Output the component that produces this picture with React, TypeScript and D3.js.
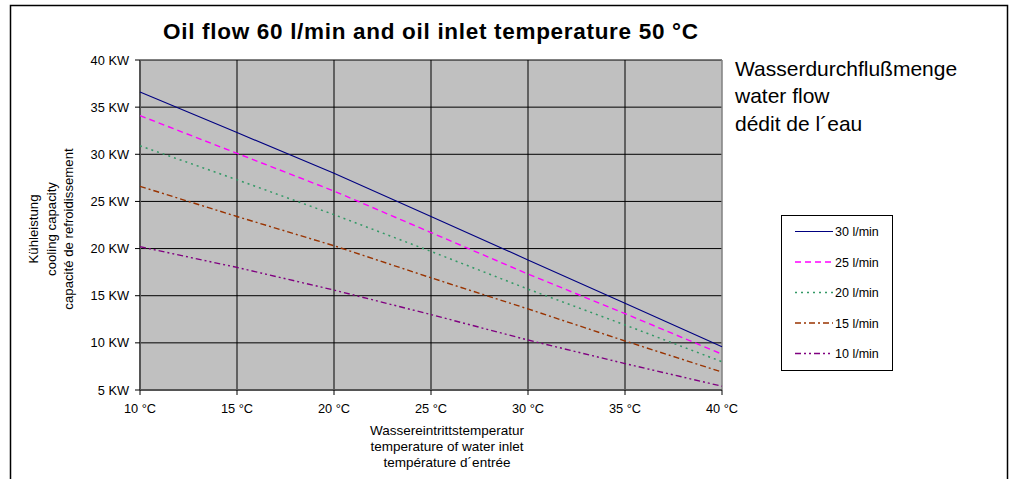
import React from "react";
import * as d3 from "d3";

const temperatures = [10, 15, 20, 25, 30, 35, 40];
const flow30 = [36.6, 32.3, 28.0, 23.4, 18.8, 14.2, 9.6];
const flow25 = [34.1, 30.1, 26.1, 21.7, 17.3, 13.1, 8.8];
const flow20 = [30.9, 27.3, 23.6, 19.7, 15.7, 11.9, 8.0];
const flow15 = [26.6, 23.4, 20.3, 16.9, 13.6, 10.2, 6.9];
const flow10 = [20.2, 18.0, 15.6, 13.0, 10.3, 7.8, 5.4];
const yTicks = [5, 10, 15, 20, 25, 30, 35, 40];
const xTicks = [10, 15, 20, 25, 30, 35, 40];
const seriesNames = ["30 l/min", "25 l/min", "20 l/min", "15 l/min", "10 l/min"];

const styles = [
  { color: "#000080", dash: "", width: 1.1 },
  { color: "#FF00FF", dash: "6,4", width: 1.4 },
  { color: "#339966", dash: "2,4", width: 1.5 },
  { color: "#993300", dash: "6,3,2,3", width: 1.4 },
  { color: "#800080", dash: "6,3,2,3,2,3", width: 1.4 },
];

const FONT = "'Liberation Sans', Arial, sans-serif";

export default function App() {
  const x = d3.scaleLinear().domain([10, 40]).range([140, 722]);
  const y = d3.scaleLinear().domain([5, 40]).range([390, 60]);
  const all = [flow30, flow25, flow20, flow15, flow10];
  const line = d3
    .line<number>()
    .x((_, i) => x(temperatures[i]))
    .y((d) => y(d));

  const legendX = 781;
  const legendY = 215;
  return (
    <svg
      width={1011}
      height={479}
      style={{ position: "absolute", left: 0, top: 0, background: "#fff" }}
      fontFamily={FONT}
    >
      <rect x={10.5} y={5.5} width={997} height={490} fill="#fff" stroke="#000" strokeWidth={1.5} />
      <text x={163} y={39} fontSize={22.5} fontWeight="bold" textLength={535} lengthAdjust="spacing">
        Oil flow 60 l/min and oil inlet temperature 50 °C
      </text>
      {/* plot area */}
      <rect x={x(10)} y={y(40)} width={x(40) - x(10)} height={y(5) - y(40)} fill="#C0C0C0" />
      {yTicks.map((t) => (
        <line key={"gy" + t} x1={x(10)} x2={x(40)} y1={y(t)} y2={y(t)} stroke="#000" strokeWidth={1} />
      ))}
      {xTicks.slice(1, -1).map((t) => (
        <line key={"gx" + t} x1={x(t)} x2={x(t)} y1={y(40)} y2={y(5)} stroke="#000" strokeWidth={1} />
      ))}
      <line x1={x(40)} x2={x(40)} y1={y(40)} y2={y(5)} stroke="#808080" strokeWidth={1.5} />
      <line x1={x(10)} x2={x(10)} y1={y(40)} y2={y(5)} stroke="#555" strokeWidth={2} />
      <line x1={x(10)} x2={x(40)} y1={y(5)} y2={y(5)} stroke="#555" strokeWidth={2} />
      {yTicks.map((t) => (
        <g key={"ty" + t}>
          <line x1={x(10) - 5} x2={x(10)} y1={y(t)} y2={y(t)} stroke="#000" />
          <text x={129} y={y(t) + 4.5} textAnchor="end" fontSize={12.8}>
            {t} KW
          </text>
        </g>
      ))}
      {xTicks.map((t) => (
        <g key={"tx" + t}>
          <line x1={x(t)} x2={x(t)} y1={y(5)} y2={y(5) + 5} stroke="#000" />
          <text x={x(t)} y={413} textAnchor="middle" fontSize={12.8}>
            {t} °C
          </text>
        </g>
      ))}
      {all.map((s, i) => (
        <path
          key={"s" + i}
          d={line(s) || ""}
          fill="none"
          stroke={styles[i].color}
          strokeWidth={styles[i].width}
          strokeDasharray={styles[i].dash}
        />
      ))}
      {/* axis titles */}
      <g fontSize={13.5} textAnchor="middle">
        <text x={447} y={435}>Wassereintrittstemperatur</text>
        <text x={447} y={451}>temperature of water inlet</text>
        <text x={447} y={467}>température d´entrée</text>
      </g>
      <g fontSize={13.2} textAnchor="middle">
        <text transform="translate(38,229) rotate(-90)">Kühleistung</text>
        <text transform="translate(56,229) rotate(-90)">cooling capacity</text>
        <text transform="translate(73,229) rotate(-90)">capacité de refroidissement</text>
      </g>
      <g fontSize={21}>
        <text x={735} y={76}>Wasserdurchflußmenge</text>
        <text x={735} y={103}>water flow</text>
        <text x={735} y={131}>dédit de l´eau</text>
      </g>
      {/* legend */}
      <rect x={legendX + 0.5} y={legendY + 0.5} width={111} height={155} fill="#fff" stroke="#000" strokeWidth={1} />
      {seriesNames.map((n, i) => {
        const ly = 231.5 + i * 30.5;
        return (
          <g key={"l" + i}>
            <line
              x1={795}
              x2={833}
              y1={ly}
              y2={ly}
              stroke={styles[i].color}
              strokeWidth={styles[i].width}
              strokeDasharray={styles[i].dash}
            />
            <text x={835} y={ly + 4.5} fontSize={12.5}>
              {n}
            </text>
          </g>
        );
      })}
    </svg>
  );
}
